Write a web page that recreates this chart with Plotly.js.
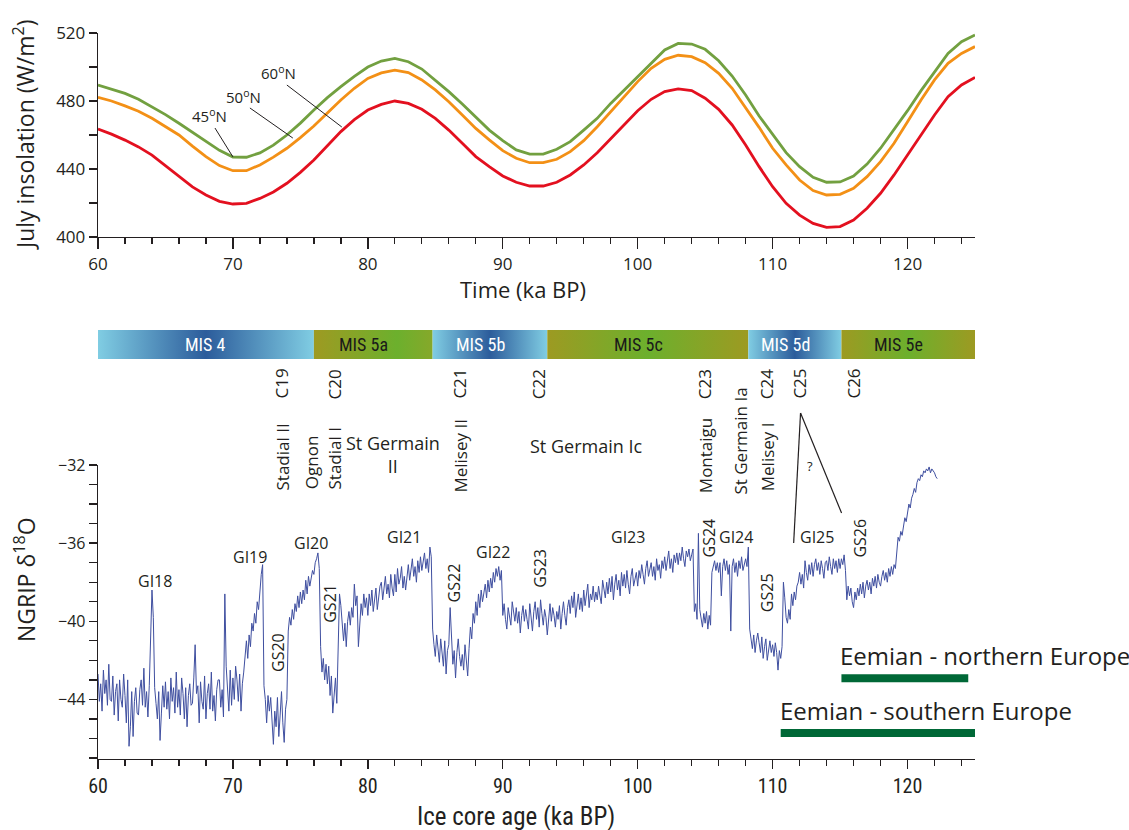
<!DOCTYPE html>
<html>
<head>
<meta charset="utf-8">
<script src="https://cdn.plot.ly/plotly-3.0.1.min.js"></script>
<style>html,body{margin:0;padding:0;background:#fff;}#chart{width:1129px;height:830px;}</style>
</head>
<body>
<div id="chart"></div>
<script>
// ---------- DATA ----------
// July insolation (W/m2), 1 ka steps from 60 to 125 ka BP
const insolationAge = [60,61,62,63,64,65,66,67,68,69,70,71,72,73,74,75,76,77,78,79,80,81,82,83,84,85,86,87,88,89,90,91,92,93,94,95,96,97,98,99,100,101,102,103,104,105,106,107,108,109,110,111,112,113,114,115,116,117,118,119,120,121,122,123,124,125];
const insolation45N = [489.4,487.0,484.5,481.0,476.7,472.0,466.9,461.5,456.1,451.0,447.0,446.9,449.5,454.0,460.0,467.0,474.7,482.0,488.4,494.5,500.0,503.5,505.1,503.1,498.8,492.4,485.5,478.2,470.8,462.9,456.7,451.2,448.8,448.8,451.6,456.1,462.9,469.8,478.6,486.5,493.9,501.8,510.0,513.9,513.5,510.4,503.7,494.7,483.5,471.2,460.4,449.6,441.4,435.1,432.2,432.4,435.9,442.9,452.2,462.9,474.3,486.1,497.3,508.0,514.9,518.8];
const insolation50N = [482.2,480.0,477.1,474.0,469.8,465.0,460.0,453.5,447.3,442.0,439.0,439.0,442.4,447.0,452.2,458.5,465.3,473.0,480.6,487.5,493.3,496.5,498.2,496.7,492.4,486.5,479.6,471.8,463.9,457.1,450.8,446.3,443.7,443.7,445.7,450.2,456.7,464.9,473.7,482.5,491.4,499.2,504.5,506.9,506.1,502.5,496.3,487.5,476.3,464.5,452.2,442.4,433.5,427.3,424.7,425.1,428.6,435.5,444.3,455.1,467.8,480.6,492.4,502.2,508.0,512.0];
const insolation60N = [463.5,460.5,457.0,453.0,448.2,442.0,435.5,429.5,424.7,421.0,419.4,419.8,422.7,426.5,431.6,438.0,445.3,453.5,462.0,469.0,474.7,478.0,480.0,478.6,475.1,469.8,462.9,455.1,447.3,441.4,435.9,432.2,430.0,430.0,432.2,436.5,442.4,449.6,458.0,466.5,474.3,481.0,485.5,487.1,486.1,481.6,475.1,465.9,454.1,441.4,429.6,419.8,412.9,408.0,405.7,406.1,410.0,416.9,425.7,436.5,448.2,460.0,471.8,482.5,489.4,493.9];
const latitudeLabels = ["45<sup>o</sup>N","50<sup>o</sup>N","60<sup>o</sup>N"];

// Marine isotope stages (ka BP)
const misNames = ["MIS 4","MIS 5a","MIS 5b","MIS 5c","MIS 5d","MIS 5e"];
const misStart = [60,76.0,84.8,93.3,108.2,115.1];
const misEnd   = [76.0,84.8,93.3,108.2,115.1,125];

// NGRIP d18O, sampled every 0.1 ka from 60.0 ka BP
const ngripStartAge = 60.0;
const ngripStep = 0.1;
const ngripD18O = [
-42.7,-44.1,-43.2,-44.6,-42.5,-43.7,-43.0,-44.3,-42.2,-44.0,
-44.1,-42.8,-44.8,-43.6,-43.2,-45.1,-43.0,-44.0,-44.4,-42.7,
-43.8,-45.2,-43.0,-46.4,-45.4,-43.6,-45.9,-44.1,-43.4,-44.7,
-44.8,-43.5,-43.0,-44.3,-42.4,-44.4,-43.6,-44.9,-43.3,-40.1,
-38.4,-39.8,-43.4,-44.2,-45.0,-43.6,-46.1,-44.7,-43.3,-44.4,
-43.1,-44.5,-43.6,-45.0,-42.9,-44.1,-43.4,-44.7,-42.6,-44.4,
-43.5,-44.8,-42.9,-43.7,-45.0,-43.4,-45.4,-43.8,-43.2,-44.3,
-44.2,-42.9,-41.2,-43.7,-43.3,-45.2,-43.1,-44.1,-44.5,-42.8,
-45.0,-43.7,-43.2,-44.5,-42.6,-44.6,-43.8,-45.1,-43.5,-43.0,
-43.0,-44.4,-43.5,-44.9,-38.6,-42.3,-43.3,-44.6,-42.5,-44.3,
-42.9,-44.0,-42.3,-43.0,-44.1,-42.7,-44.6,-43.2,-42.6,-41.8,
-41.0,-41.9,-40.7,-41.3,-40.1,-40.5,-39.6,-40.1,-39.0,-39.4,
-38.4,-37.6,-37.1,-43.3,-44.0,-45.2,-43.8,-44.6,-43.9,-45.5,
-46.3,-44.6,-45.4,-43.9,-45.9,-44.8,-43.6,-45.2,-46.2,-44.5,
-44.0,-40.5,-39.8,-40.2,-39.4,-39.9,-39.1,-39.5,-38.7,-39.3,
-38.5,-39.1,-38.4,-38.9,-37.9,-38.6,-37.7,-38.2,-37.8,-37.4,
-37.6,-37.0,-36.8,-36.5,-37.3,-41.3,-42.6,-41.9,-43.0,-42.2,
-43.2,-42.3,-43.8,-42.8,-44.7,-43.6,-42.9,-44.2,-40.4,-38.6,
-39.2,-40.3,-41.0,-40.1,-41.3,-40.0,-39.5,-40.2,-39.3,-39.8,
-38.1,-39.2,-38.7,-41.3,-39.8,-39.1,-39.7,-38.6,-39.3,-38.8,
-39.7,-38.6,-39.2,-38.4,-39.5,-38.9,-38.3,-39.4,-38.7,-38.2,
-38.0,-38.9,-38.3,-37.7,-38.6,-38.1,-38.8,-37.6,-38.3,-38.7,
-37.6,-38.5,-37.3,-38.1,-37.8,-37.2,-38.3,-37.7,-38.4,-37.5,
-37.1,-37.9,-37.4,-36.8,-37.7,-37.2,-38.0,-36.9,-37.5,-36.7,
-37.4,-36.9,-36.5,-37.3,-36.8,-37.5,-36.2,-36.7,-40.4,-41.2,
-41.8,-40.7,-41.3,-42.1,-40.9,-41.6,-42.3,-41.0,-42.7,-41.5,
-41.2,-39.3,-41.0,-42.2,-41.5,-42.9,-41.6,-40.9,-41.8,-42.3,
-41.7,-42.5,-41.2,-42.0,-42.8,-41.4,-40.3,-40.9,-39.6,-40.1,
-39.0,-39.7,-38.6,-39.3,-38.4,-39.0,-38.5,-38.1,-38.8,-37.9,
-38.5,-37.8,-38.3,-37.5,-38.0,-37.3,-37.7,-37.2,-37.9,-37.4,
-39.7,-39.1,-39.9,-40.4,-39.3,-39.8,-40.2,-39.0,-39.6,-40.0,
-39.3,-40.1,-39.5,-40.6,-39.7,-39.2,-40.0,-39.4,-39.9,-40.4,
-39.1,-39.8,-40.5,-39.5,-39.0,-39.9,-39.3,-40.3,-38.9,-39.6,
-40.2,-39.4,-39.8,-40.7,-39.6,-39.1,-40.0,-39.3,-39.7,-40.3,
-39.5,-39.9,-39.2,-40.4,-39.6,-39.0,-39.7,-40.2,-39.3,-38.9,
-39.6,-38.7,-39.3,-38.5,-39.8,-39.0,-38.6,-39.4,-38.8,-39.5,
-38.4,-39.2,-38.7,-38.1,-39.3,-38.6,-38.9,-38.2,-39.0,-38.5,
-38.9,-38.2,-38.7,-39.1,-37.9,-38.5,-38.8,-38.0,-38.6,-37.8,
-38.5,-37.7,-38.9,-38.1,-37.6,-38.4,-37.9,-38.7,-37.5,-38.2,
-37.6,-38.3,-37.4,-38.1,-38.6,-37.7,-37.3,-38.2,-37.8,-37.5,
-38.2,-37.4,-37.8,-37.1,-37.6,-38.1,-37.3,-36.9,-37.7,-37.4,
-37.0,-37.7,-37.2,-37.9,-36.8,-37.4,-37.1,-37.8,-36.9,-37.3,
-36.7,-37.4,-36.9,-36.4,-37.3,-36.8,-37.5,-36.6,-37.0,-36.5,
-37.1,-36.5,-36.9,-36.2,-36.8,-37.2,-36.4,-36.7,-36.3,-36.9,
-36.6,-36.3,-39.5,-39.1,-39.9,-35.5,-39.4,-39.9,-40.3,-39.6,
-40.1,-39.5,-40.4,-39.7,-40.2,-37.5,-37.1,-36.9,-37.4,-37.0,
-37.5,-37.0,-38.7,-37.2,-36.8,-37.4,-36.9,-37.6,-37.1,-40.5,
-37.2,-36.8,-37.5,-37.0,-37.7,-36.9,-37.3,-36.7,-37.4,-37.0,
-36.8,-37.2,-36.2,-40.4,-40.8,-41.4,-40.7,-41.6,-41.0,-40.6,
-41.1,-41.6,-40.8,-41.9,-41.3,-40.9,-42.0,-41.4,-41.0,-41.6,
-41.2,-41.8,-41.1,-41.6,-42.5,-41.5,-41.9,-41.3,-38.0,-38.8,
-39.8,-40.1,-39.4,-39.9,-38.6,-39.2,-38.5,-38.9,-38.2,-38.0,
-37.5,-38.1,-37.6,-38.3,-36.9,-37.5,-37.9,-37.1,-37.6,-37.0,
-37.7,-37.1,-36.8,-37.4,-37.0,-37.6,-36.9,-37.3,-37.8,-37.0,
-36.9,-37.4,-36.7,-37.2,-37.6,-36.8,-37.3,-36.9,-37.5,-36.8,
-37.3,-36.8,-37.1,-36.6,-37.4,-38.9,-38.2,-38.7,-38.3,-39.0,
-39.3,-38.5,-38.9,-38.3,-38.7,-38.1,-38.6,-38.0,-38.8,-38.2,
-37.9,-38.4,-38.0,-38.6,-37.8,-38.2,-37.7,-38.3,-37.6,-38.0,
-38.2,-37.7,-37.4,-37.9,-37.5,-38.0,-37.3,-37.7,-37.2,-37.6,
-37.1,-37.3,-36.2,-35.7,-35.9,-35.4,-35.6,-35.0,-34.7,-34.9,
-34.4,-34.0,-34.2,-33.7,-33.5,-33.2,-33.4,-32.9,-32.7,-32.8,
-32.5,-32.6,-32.3,-32.4,-32.2,-32.3,-32.1,-32.4,-32.2,-32.3,
-32.4,-32.6,-32.7
];

// Greenland interstadial / stadial labels (ka BP, d18O)
const eventNames = ["GI18","GI19","GI20","GS20","GS21","GI21","GS22","GI22","GS23","GI23","GS24","GI24","GS25","GI25","GS26"];
const eventAge   = [64.2,71.3,75.8,73.3,77.2,82.7,86.4,89.3,92.7,99.3,105.3,107.3,109.6,113.3,116.5];
const eventD18O  = [-37.95,-36.7,-36.0,-41.6,-39.1,-35.7,-38.05,-36.45,-37.3,-35.7,-35.75,-35.7,-38.55,-35.7,-35.75];
const eventVertical = [false,false,false,true,true,false,true,false,true,false,true,false,true,false,true];

// Pollen-record correlations and cold events
const coldEvents = ["C19","C20","C21","C22","C23","C24","C25","C26"];
const coldEventAge = [73.6,77.6,86.8,92.7,105.0,109.6,112.0,116.0];
const pollenNames = ["Stadial II","Ognon","Stadial I","St Germain<br>II","Melisey II","St Germain Ic","Montaigu","St Germain Ia","Melisey I"];
const pollenAge   = [73.6,75.8,77.6,81.85,86.8,96.15,105.0,107.55,109.6];
const pollenVertical = [true,true,true,false,true,false,true,true,true];

// Eemian duration bars
const eemianNames = ["Eemian - northern Europe","Eemian - southern Europe"];
const eemianStart = [115.1,110.6];
const eemianEnd   = [124.5,125.0];
const eemianD18O  = [-42.92,-45.72];

// ---------- LAYOUT HELPERS ----------
const W = 1129, H = 830;
const mL = 98, mR = 153.5, mT = 0, mB = 0;
function pyToPaper(py){ return (H - mB - py) / (H - mT - mB); }
function pxToPaper(px){ return (px - mL) / (W - mL - mR); }
const FONT = "Open Sans, Noto Sans, sans-serif";
const NARROW = "Roboto Condensed, Roboto, sans-serif";
const INK = "#231f20";
const ngripAge = ngripD18O.map((_, i) => +(ngripStartAge + i * ngripStep).toFixed(2));

const traces = [];
const insColors = ["#72a040","#f39016","#e3101f"];
[insolation45N, insolation50N, insolation60N].forEach((v, i) => {
  traces.push({type:"scatter", mode:"lines", x: insolationAge, y: v, xaxis:"x", yaxis:"y",
    line:{color: insColors[i], width: 2.8}, hoverinfo:"skip", showlegend:false});
});
const blueScale = [[0,"#80cde3"],[0.5,"#2c5c9b"],[1,"#80cde3"]];
const greenScale = [[0,"#9d9a22"],[0.5,"#6cb02d"],[1,"#9d9a22"]];
function isBlue(n){ return n === "MIS 4" || n === "MIS 5b" || n === "MIS 5d"; }
misNames.forEach((n, i) => {
  let scale = isBlue(n) ? blueScale : greenScale;
  if (n === "MIS 5a") scale = [[0,"#9e9a22"],[0.7,"#6cb02d"],[1,"#86a82a"]];
  traces.push({type:"scatter", mode:"lines", xaxis:"x", yaxis:"y3",
    x:[misStart[i], misEnd[i], misEnd[i], misStart[i], misStart[i]], y:[0,0,1,1,0],
    fill:"toself", line:{width:0, color:"rgba(0,0,0,0)"},
    fillgradient:{type:"horizontal", colorscale: scale, start: misStart[i], stop: misEnd[i]},
    hoverinfo:"skip", showlegend:false});
});
traces.push({type:"scatter", mode:"lines", x: ngripAge, y: ngripD18O, xaxis:"x2", yaxis:"y2",
  line:{color:"#3f4fa0", width:1}, hoverinfo:"skip", showlegend:false});
eemianNames.forEach((n, i) => {
  traces.push({type:"scatter", mode:"lines", x:[eemianStart[i], eemianEnd[i]], y:[eemianD18O[i], eemianD18O[i]],
    xaxis:"x2", yaxis:"y2", line:{color:"#006837", width:8}, hoverinfo:"skip", showlegend:false});
});

// ---------- ANNOTATIONS ----------
const ann = [];
function addText(o){ ann.push(Object.assign({showarrow:false, xanchor:"center", yanchor:"middle"}, o)); }
// axis titles
addText({text:"Time (ka BP)", x:pxToPaper(523), y:pyToPaper(289), xref:"paper", yref:"paper",
  font:{family:FONT, size:22, color:INK}});
addText({text:"Ice core age (ka BP)", x:pxToPaper(516), y:pyToPaper(816), xref:"paper", yref:"paper",
  font:{family:NARROW, size:25, color:INK, stretch:"condensed"}});
addText({text:"July insolation (W/m<sup>2</sup>)", x:pxToPaper(24), y:pyToPaper(135), xref:"paper", yref:"paper",
  textangle:-90, font:{family:FONT, size:23, color:INK}});
addText({text:"NGRIP δ<sup>18</sup>O", x:pxToPaper(25), y:pyToPaper(580), xref:"paper", yref:"paper",
  textangle:-90, font:{family:FONT, size:23, color:INK}});
// latitude labels
const latTextPos = [[68.3,471.2],[70.75,482.9],[73.35,496.5]];
latitudeLabels.forEach((t, i) => {
  addText({text:t, x:latTextPos[i][0], y:latTextPos[i][1], xref:"x", yref:"y",
    font:{family:FONT, size:15, color:INK}});
});
// MIS labels
misNames.forEach((n, i) => {
  addText({text:n, x:(misStart[i]+misEnd[i])/2 - (i===0?0:0.7), y:0.5, xref:"x", yref:"y3",
    font:{family:NARROW, size:18, stretch:"condensed", color: isBlue(n) ? "#ffffff" : "#1a1a1a"}});
});
// cold events
coldEvents.forEach((n, i) => {
  addText({text:n, x:coldEventAge[i], y:pyToPaper(384), xref:"x2", yref:"paper", textangle:-90,
    font:{family:FONT, size:17, color:INK}});
});
// pollen stages
const pollenY = [457,462,458,455,456,446,456,441,457];
pollenNames.forEach((n, i) => {
  addText({text:n, x:pollenAge[i], y:pyToPaper(pollenY[i]), xref:"x2", yref:"paper",
    textangle: pollenVertical[i] ? -90 : 0, font:{family:FONT, size: pollenVertical[i] ? 17 : 18, color:INK}});
});
addText({text:"?", x:112.75, y:pyToPaper(466), xref:"x2", yref:"paper", font:{family:FONT, size:13, color:INK}});
// GI / GS labels
eventNames.forEach((n, i) => {
  addText({text:n, x:eventAge[i], y:eventD18O[i], xref:"x2", yref:"y2",
    textangle: eventVertical[i] ? -90 : 0, font:{family:FONT, size:16, color:INK}});
});
// Eemian labels
eemianNames.forEach((n, i) => {
  addText({text:n, x:eemianStart[i], y:eemianD18O[i], xref:"x2", yref:"y2",
    xanchor:"left", yanchor:"bottom", yshift:4, xshift:-3, font:{family:FONT, size:24, color:INK}});
});

// ---------- SHAPES (pointer lines) ----------
const shapes = [
  {type:"line", xref:"x", yref:"y", x0:68.67, y0:464.1, x1:70.0, y1:447.1, line:{color:INK, width:1}},
  {type:"line", xref:"x", yref:"y", x0:71.26, y0:475.9, x1:74.44, y1:458.2, line:{color:INK, width:1}},
  {type:"line", xref:"x", yref:"y", x0:74.0, y0:489.4, x1:78.07, y1:464.7, line:{color:INK, width:1}},
  {type:"line", xref:"x2", yref:"paper", x0:112.07, y0:pyToPaper(413), x1:111.56, y1:pyToPaper(543), line:{color:INK, width:1.2}},
  {type:"line", xref:"x2", yref:"paper", x0:112.07, y0:pyToPaper(413), x1:115.11, y1:pyToPaper(513), line:{color:INK, width:1.2}}
];

const axisCommon = {showgrid:false, zeroline:false, showline:true, linecolor:INK, linewidth:1.3,
  ticks:"outside", tickcolor:INK, tickwidth:1.3};

const layout = {
  width: W, height: H, margin:{l:mL, r:mR, t:mT, b:mB},
  paper_bgcolor:"#ffffff", plot_bgcolor:"rgba(0,0,0,0)", showlegend:false,
  xaxis: Object.assign({}, axisCommon, {domain:[0,1], range:[60,125], anchor:"y", dtick:10, tick0:60, ticklen:11,
    minor:{dtick:2, ticklen:6, ticks:"outside", tickcolor:INK, tickwidth:1.3},
    tickfont:{family:FONT, size:17, color:INK}}),
  yaxis: Object.assign({}, axisCommon, {domain:[pyToPaper(237), pyToPaper(33)], range:[400,520], anchor:"x",
    dtick:40, tick0:400, ticklen:8, minor:{dtick:20, ticklen:8, ticks:"outside", tickcolor:INK, tickwidth:1.3},
    tickfont:{family:FONT, size:17, color:INK}}),
  yaxis3: {domain:[pyToPaper(359), pyToPaper(330)], range:[0,1], anchor:"x", visible:false, fixedrange:true},
  xaxis2: Object.assign({}, axisCommon, {domain:[0,1], range:[60,125], anchor:"y2", dtick:10, tick0:60, ticklen:9,
    minor:{dtick:2, ticklen:6, ticks:"outside", tickcolor:INK, tickwidth:1.3},
    tickfont:{family:NARROW, size:20, color:INK, stretch:"condensed"}}),
  yaxis2: Object.assign({}, axisCommon, {domain:[pyToPaper(759), pyToPaper(465)], range:[-47.05,-32], anchor:"x2",
    dtick:4, tick0:-32, ticklen:8, minor:{dtick:1, ticklen:8, ticks:"outside", tickcolor:INK, tickwidth:1.3},
    tickfont:{family:FONT, size:16, color:INK}}),
  annotations: ann,
  shapes: shapes
};

Plotly.newPlot("chart", traces, layout, {staticPlot:true, displayModeBar:false});
</script>
</body>
</html>
